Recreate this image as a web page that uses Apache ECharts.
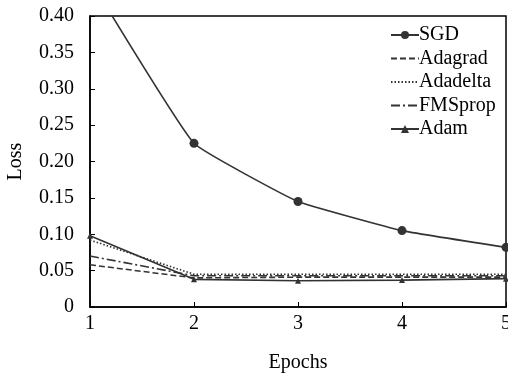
<!DOCTYPE html>
<html>
<head>
<meta charset="utf-8">
<script src="https://cdn.jsdelivr.net/npm/echarts@6/dist/echarts.min.js"></script>
<style>
  html, body { margin: 0; padding: 0; background: #fff; }
  #chart { width: 508px; height: 374px; }
</style>
</head>
<body>
<div id="chart"></div>
<script>
// 横轴：训练轮数
const epochs = [1, 2, 3, 4, 5];
const yTicks = [0, 0.05, 0.1, 0.15, 0.2, 0.25, 0.3, 0.35, 0.4];

// 各优化器的损失
const sgd = [0.45, 0.225, 0.145, 0.105, 0.082];
const adagrad = [0.058, 0.040, 0.041, 0.041, 0.041];
const adadelta = [0.092, 0.045, 0.045, 0.045, 0.045];
const fmsprop = [0.070, 0.043, 0.043, 0.043, 0.043];
const adam = [0.098, 0.038, 0.036, 0.037, 0.039];

const FONT = "Liberation Serif";
const FS = 20;
const INK = "#333";

function pairs(vals) {
  return epochs.map((e, i) => [e, vals[i]]);
}

function lineSeries(name, vals, type, symbol, size) {
  return {
    name, type: "line", data: pairs(vals),
    symbol: symbol || "none", symbolSize: size || 0,
    showSymbol: !!symbol,
    clip: true,
    lineStyle: { color: INK, width: 1.6, type },
    itemStyle: { color: INK }
  };
}

// 无标记的系列在图例里只画线
const hidden = { itemStyle: { opacity: 0 } };

const chart = echarts.init(document.getElementById("chart"), null, { renderer: "canvas" });
chart.setOption({
  animation: false,
  backgroundColor: "#fff",
  textStyle: { fontFamily: FONT },
  grid: {
    left: 90, right: 2, top: 16, bottom: 67,
    outerBoundsMode: "none", containLabel: false,
    show: true, borderColor: "#000", borderWidth: 1.5
  },
  legend: {
    orient: "vertical", left: 385, top: 20,
    itemWidth: 28, itemHeight: 10, itemGap: 23.5 - FS,
    textStyle: { fontFamily: FONT, fontSize: FS, color: "#000", padding: [0, 0, 0, -5] },
    data: [
      { name: "SGD" },
      Object.assign({ name: "Adagrad" }, hidden),
      Object.assign({ name: "Adadelta" }, hidden),
      Object.assign({ name: "FMSprop" }, hidden),
      { name: "Adam" }
    ]
  },
  xAxis: {
    type: "value", min: 1, max: 5, interval: 1,
    name: "Epochs", nameLocation: "middle", nameGap: 46,
    nameTextStyle: { fontFamily: FONT, fontSize: FS, color: "#000" },
    axisLine: { lineStyle: { color: "#000", width: 1.5 } },
    axisTick: { inside: true, length: 5, lineStyle: { color: "#000" } },
    axisLabel: { fontFamily: FONT, fontSize: FS, color: "#000", margin: 7 },
    splitLine: { show: false }
  },
  yAxis: {
    type: "value", min: yTicks[0], max: yTicks[yTicks.length - 1], interval: 0.05,
    name: "Loss", nameLocation: "middle", nameGap: 64,
    nameTextStyle: { fontFamily: FONT, fontSize: FS, color: "#000" },
    axisLine: { show: true, lineStyle: { color: "#000", width: 1.5 } },
    axisTick: { show: true, inside: true, length: 5, lineStyle: { color: "#000" } },
    axisLabel: {
      fontFamily: FONT, fontSize: FS, color: "#000", margin: 16,
      formatter: (v) => (v === 0 ? "0" : v.toFixed(2))
    },
    splitLine: { show: false }
  },
  series: [
    Object.assign(lineSeries("SGD", sgd, "solid", "circle", 9), { smooth: 0.1 }),
    lineSeries("Adagrad", adagrad, [6, 3]),
    lineSeries("Adadelta", adadelta, [1.5, 2]),
    lineSeries("FMSprop", fmsprop, [9, 3, 2, 3]),
    lineSeries("Adam", adam, "solid", "triangle", 6)
  ]
});
</script>
</body>
</html>
